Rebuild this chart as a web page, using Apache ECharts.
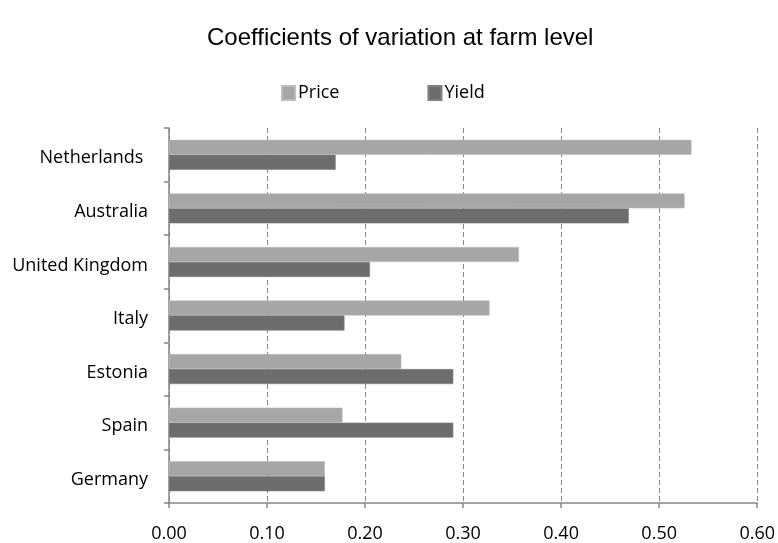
<!DOCTYPE html>
<html>
<head>
<meta charset="utf-8">
<script src="https://cdn.jsdelivr.net/npm/echarts@6/dist/echarts.min.js"></script>
<style>
  html, body { margin: 0; padding: 0; background: #fff; }
  #chart { width: 778px; height: 543px; }
</style>
</head>
<body>
<div id="chart"></div>
<script>
// Countries, top to bottom
const countries = ['Netherlands ', 'Australia', 'United Kingdom', 'Italy', 'Estonia', 'Spain', 'Germany'];
// Coefficient of variation of farm-level price
const priceCV = [0.533, 0.526, 0.357, 0.327, 0.237, 0.177, 0.159];
// Coefficient of variation of farm-level yield
const yieldCV = [0.170, 0.469, 0.205, 0.179, 0.290, 0.290, 0.159];
// Value axis tick labels
const xTicks = ['0.00', '0.10', '0.20', '0.30', '0.40', '0.50', '0.60'];

const labelFont = '"Open Sans", sans-serif';
const axisGrey = '#868686';

const chart = echarts.init(document.getElementById('chart'), null, { renderer: 'canvas' });

chart.setOption({
  animation: false,
  backgroundColor: '#ffffff',
  title: {
    text: 'Coefficients of variation at farm level',
    left: 202,
    top: 21,
    textStyle: {
      fontFamily: '"Liberation Sans", Arial, sans-serif',
      fontSize: 24,
      fontWeight: 'normal',
      color: '#000000'
    }
  },
  legend: {
    left: 276,
    top: 79,
    itemWidth: 13,
    itemHeight: 14,
    itemGap: 88,
    icon: 'rect',
    textStyle: {
      fontFamily: labelFont,
      fontSize: 18,
      color: '#000000',
      padding: [0, 0, 0, -2]
    },
    data: ['Price', 'Yield']
  },
  grid: {
    left: 169,
    right: 19,
    top: 128,
    bottom: 37,
    containLabel: false
  },
  xAxis: {
    type: 'value',
    min: 0,
    max: 0.6,
    interval: 0.1,
    axisLine: { show: true, lineStyle: { color: axisGrey, width: 1.5 } },
    axisTick: { show: true, length: 5, lineStyle: { color: axisGrey, width: 1.5 } },
    axisLabel: {
      margin: 22,
      fontFamily: labelFont,
      fontSize: 18,
      color: '#000000',
      formatter: (v) => xTicks[Math.round(v * 10)]
    },
    splitLine: {
      show: true,
      lineStyle: { color: axisGrey, type: [5, 3], width: 1 }
    }
  },
  yAxis: {
    type: 'category',
    data: countries,
    inverse: true,
    axisLine: { show: true, lineStyle: { color: axisGrey, width: 1.5 } },
    axisTick: { show: true, length: 5, inside: false, lineStyle: { color: axisGrey, width: 1.5 } },
    axisLabel: {
      margin: 21,
      formatter: (name) => '{c|' + name + '}',
      rich: {
        c: {
          fontFamily: labelFont,
          fontSize: 18,
          color: '#000000',
          padding: [7, 0, 0, 0]
        }
      }
    },
    splitLine: { show: false }
  },
  series: [
    {
      name: 'Price',
      type: 'bar',
      data: priceCV,
      barGap: '0%',
      barCategoryGap: '44%',
      itemStyle: { color: '#a6a6a6', borderColor: '#bdbdbd', borderWidth: 0.6 }
    },
    {
      name: 'Yield',
      type: 'bar',
      data: yieldCV,
      itemStyle: { color: '#6d6d6d', borderColor: '#808080', borderWidth: 0.6 }
    }
  ]
});
</script>
</body>
</html>
